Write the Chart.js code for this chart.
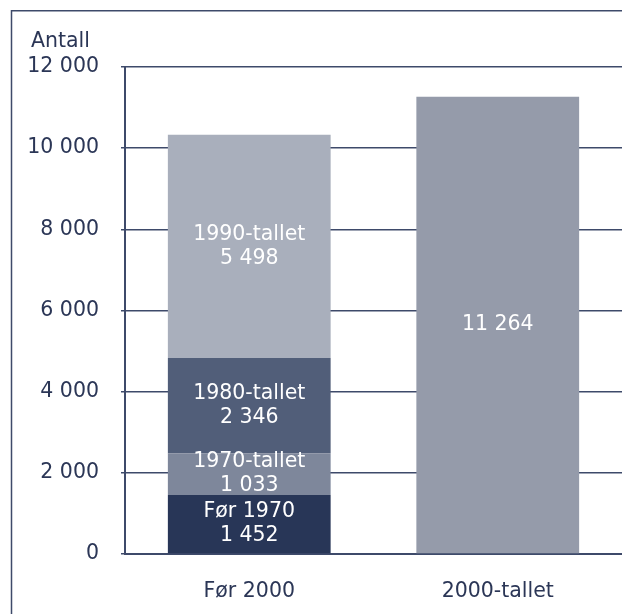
<!DOCTYPE html>
<html>
<head>
<meta charset="utf-8">
<script src="https://cdn.jsdelivr.net/npm/chart.js@4"></script>
<style>
  html, body { margin: 0; padding: 0; background: #fff; }
  #wrap { width: 622px; height: 614px; }
</style>
</head>
<body>
<div id="wrap"><canvas id="mychart"></canvas></div>
<script>
// data
const categories = ['Før 2000', '2000-tallet'];
const seriesNames = ['Før 1970', '1970-tallet', '1980-tallet', '1990-tallet', '2000-tallet'];
const seriesValues = [
  [1452, null],
  [1033, null],
  [2346, null],
  [5498, null],
  [null, 11264]
];
const showName = [true, true, true, true, false];
const seriesColors = ['#283657', '#7e879b', '#515e79', '#a9afbc', '#959baa'];
const yTicks = [0, 2000, 4000, 6000, 8000, 10000, 12000];
const yTitle = 'Antall';

const navy = '#2b3656';
const lineCol = '#3e4a6a';
const fontFamily = "'DejaVu Sans', Verdana, sans-serif";
const fontSize = 20.5;

function fmt(v) {
  return String(v).replace(/\B(?=(\d{3})+(?!\d))/g, ' ');
}

// frame + y title
const framePlugin = {
  id: 'frame',
  beforeDraw(chart) {
    const c = chart.ctx;
    c.save();
    c.strokeStyle = lineCol;
    c.lineWidth = 1.5;
    c.beginPath();
    c.moveTo(11.5, chart.height + 5);
    c.lineTo(11.5, 10.75);
    c.lineTo(chart.width + 5, 10.75);
    c.stroke();
    c.fillStyle = navy;
    c.font = fontSize + 'px ' + fontFamily;
    c.textBaseline = 'middle';
    c.textAlign = 'left';
    c.fillText(yTitle, 31, 42);
    c.restore();
  }
};

// labels inside the segments
const labelPlugin = {
  id: 'segLabels',
  afterDatasetsDraw(chart) {
    const c = chart.ctx;
    c.save();
    c.fillStyle = '#ffffff';
    c.font = fontSize + 'px ' + fontFamily;
    c.textAlign = 'center';
    c.textBaseline = 'middle';
    chart.data.datasets.forEach((ds, i) => {
      const meta = chart.getDatasetMeta(i);
      meta.data.forEach((bar, j) => {
        const v = ds.data[j];
        if (v == null) return;
        const p = bar.getProps(['x', 'y', 'base'], true);
        const mid = (p.y + p.base) / 2;
        if (showName[i]) {
          c.fillText(seriesNames[i], p.x, mid - 12);
          c.fillText(fmt(v), p.x, mid + 12);
        } else {
          c.fillText(fmt(v), p.x, mid);
        }
      });
    });
    c.restore();
  }
};

const ctx = document.getElementById('mychart');
const chart = new Chart(ctx, {
  type: 'bar',
  data: {
    labels: categories,
    datasets: seriesNames.map((n, i) => ({
      label: n,
      data: seriesValues[i],
      backgroundColor: seriesColors[i],
      borderWidth: 0,
      barPercentage: 0.655,
      categoryPercentage: 1
    }))
  },
  options: {
    responsive: true,
    maintainAspectRatio: false,
    animation: false,
    layout: {
      padding: { top: 67, left: 0, right: 0, bottom: 0 }
    },
    plugins: {
      legend: { display: false },
      tooltip: { enabled: false }
    },
    scales: {
      x: {
        stacked: true,
        grid: { display: false, drawTicks: false },
        border: { display: true, color: lineCol, width: 2 },
        ticks: {
          color: navy,
          font: { family: fontFamily, size: fontSize },
          padding: 25,
          maxRotation: 0
        },
        afterFit(scale) { scale.height = 60; }
      },
      y: {
        stacked: true,
        min: 0,
        max: 12000,
        afterBuildTicks(scale) {
          scale.ticks = yTicks.map(v => ({ value: v }));
        },
        grid: {
          color: lineCol,
          lineWidth: 1.5,
          tickLength: 4,
          drawTicks: true
        },
        border: { display: true, color: lineCol, width: 2 },
        ticks: {
          color: navy,
          font: { family: fontFamily, size: fontSize },
          padding: 22,
          callback: v => fmt(v)
        },
        afterFit(scale) { scale.width = 125; }
      }
    }
  },
  plugins: [framePlugin, labelPlugin]
});
</script>
</body>
</html>
